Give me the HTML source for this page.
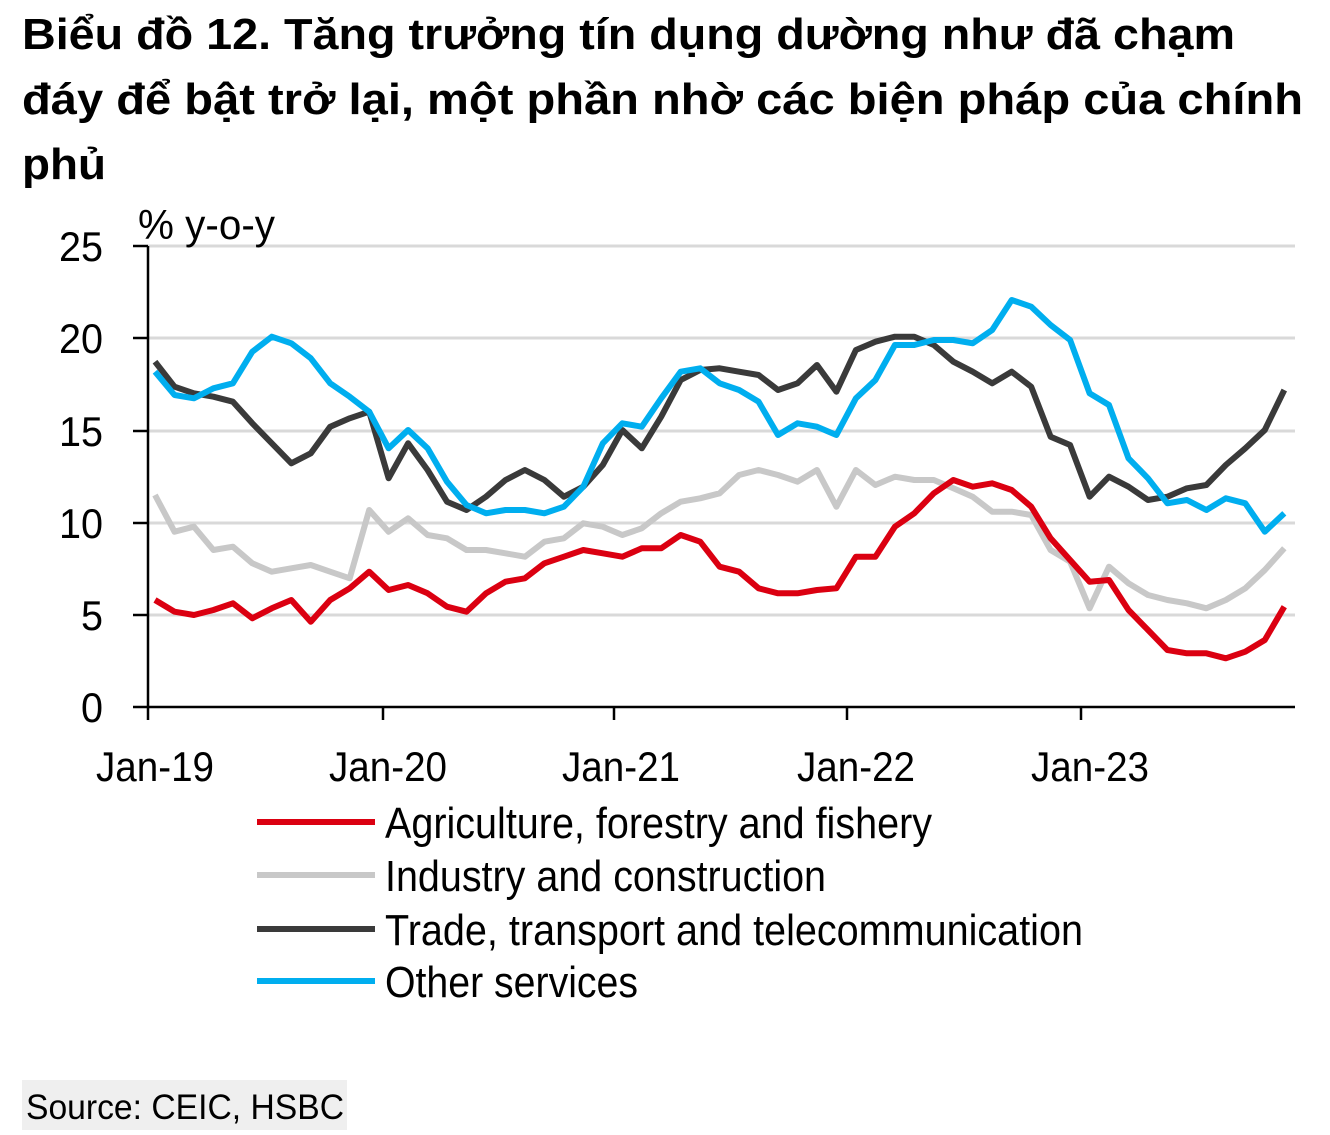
<!DOCTYPE html>
<html><head><meta charset="utf-8"><style>body{margin:0;background:#fff}svg{display:block}</style></head><body>
<svg width="1330" height="1135" xmlns="http://www.w3.org/2000/svg" font-family="'Liberation Sans', sans-serif">
<g font-weight="bold" font-size="44" fill="#000">
<text x="22" y="49" textLength="1213" lengthAdjust="spacingAndGlyphs">Biểu đồ 12. Tăng trưởng tín dụng dường như đã chạm</text>
<text x="22" y="114" textLength="1281" lengthAdjust="spacingAndGlyphs">đáy để bật trở lại, một phần nhờ các biện pháp của chính</text>
<text x="22" y="179" textLength="84" lengthAdjust="spacingAndGlyphs">phủ</text>
</g>
<g stroke="#d9d9d9" stroke-width="3">
<line x1="148" y1="615" x2="1295" y2="615"/><line x1="148" y1="523" x2="1295" y2="523"/>
<line x1="148" y1="431" x2="1295" y2="431"/><line x1="148" y1="338" x2="1295" y2="338"/>
<line x1="148" y1="246" x2="1295" y2="246"/>
</g>
<g stroke="#000" stroke-width="2.5">
<line x1="148" y1="246" x2="148" y2="720"/><line x1="133" y1="707" x2="1295" y2="707"/>
<line x1="133" y1="615" x2="148" y2="615"/><line x1="133" y1="523" x2="148" y2="523"/>
<line x1="133" y1="431" x2="148" y2="431"/><line x1="133" y1="338" x2="148" y2="338"/>
<line x1="133" y1="246" x2="148" y2="246"/>
<line x1="383" y1="707" x2="383" y2="720"/><line x1="614" y1="707" x2="614" y2="720"/>
<line x1="847" y1="707" x2="847" y2="720"/><line x1="1081" y1="707" x2="1081" y2="720"/>
</g>
<g font-size="42" fill="#000" text-anchor="end">
<text x="103" y="261" textLength="44" lengthAdjust="spacingAndGlyphs">25</text>
<text x="103" y="353" textLength="44" lengthAdjust="spacingAndGlyphs">20</text>
<text x="103" y="446" textLength="44" lengthAdjust="spacingAndGlyphs">15</text>
<text x="103" y="538" textLength="44" lengthAdjust="spacingAndGlyphs">10</text>
<text x="103" y="630" textLength="22" lengthAdjust="spacingAndGlyphs">5</text>
<text x="103" y="722" textLength="22" lengthAdjust="spacingAndGlyphs">0</text>
</g>
<text x="138" y="239" font-size="42" textLength="137" lengthAdjust="spacingAndGlyphs">% y-o-y</text>
<g font-size="42" text-anchor="middle">
<text x="155" y="781" textLength="118" lengthAdjust="spacingAndGlyphs">Jan-19</text>
<text x="388" y="781" textLength="118" lengthAdjust="spacingAndGlyphs">Jan-20</text>
<text x="621" y="781" textLength="118" lengthAdjust="spacingAndGlyphs">Jan-21</text>
<text x="856" y="781" textLength="118" lengthAdjust="spacingAndGlyphs">Jan-22</text>
<text x="1090" y="781" textLength="118" lengthAdjust="spacingAndGlyphs">Jan-23</text>
</g>
<g id="series" fill="none" stroke-width="6" stroke-linejoin="round"></g>
<g stroke-width="6">
<line x1="257" y1="822" x2="375" y2="822" stroke="#db0011"/>
<line x1="257" y1="875" x2="375" y2="875" stroke="#c8c8c8"/>
<line x1="257" y1="929" x2="375" y2="929" stroke="#3a3a3a"/>
<line x1="257" y1="981" x2="375" y2="981" stroke="#00aeef"/>
</g>
<g font-size="44">
<text x="385" y="838" textLength="547" lengthAdjust="spacingAndGlyphs">Agriculture, forestry and fishery</text>
<text x="385" y="891" textLength="441" lengthAdjust="spacingAndGlyphs">Industry and construction</text>
<text x="385" y="945" textLength="698" lengthAdjust="spacingAndGlyphs">Trade, transport and telecommunication</text>
<text x="385" y="997" textLength="253" lengthAdjust="spacingAndGlyphs">Other services</text>
</g>
<rect x="22" y="1080" width="325" height="50" fill="#efefef"/>
<text x="26" y="1119" font-size="35" textLength="318" lengthAdjust="spacingAndGlyphs">Source: CEIC, HSBC</text>
</svg>
<script>
var S=[
["#c8c8c8",[615,725,710,780,770,820,845,835,825,845,865,660,725,685,735,745,780,780,790,800,755,745,700,710,735,715,670,635,625,610,555,540,555,575,540,650,540,585,560,570,570,595,620,665,665,675,780,815,955,830,880,915,930,940,955,930,895,840,775]],
["#3a3a3a",[215,290,310,320,335,400,460,520,490,410,385,365,565,460,540,635,660,620,570,540,570,620,590,525,420,475,380,270,240,235,245,255,300,280,225,305,180,155,140,140,165,215,245,280,245,290,440,465,620,560,590,630,620,595,585,525,475,420,300]],
["#00aeef",[245,315,325,295,280,185,140,160,205,280,320,365,475,420,475,575,645,670,660,660,670,650,590,460,400,410,325,245,235,280,300,335,435,400,410,435,325,270,165,165,150,150,160,120,30,50,105,150,310,345,505,565,640,630,660,625,640,725,670]],
["#db0011",[930,965,975,960,940,985,955,930,995,930,895,845,900,885,910,950,965,910,875,865,820,800,780,790,800,775,775,735,755,830,845,895,910,910,900,895,800,800,710,670,610,570,590,580,600,650,745,810,875,870,960,1020,1080,1090,1090,1105,1085,1050,950]]];
var g=document.getElementById('series'),h='';
S.forEach(function(s){var p=s[1].map(function(z,i){return (155+19.47*i).toFixed(1)+','+(290+z/3).toFixed(1)}).join(' ');
h+='<polyline stroke="'+s[0]+'" points="'+p+'"/>';});
g.innerHTML=h;
</script>
</body></html>
